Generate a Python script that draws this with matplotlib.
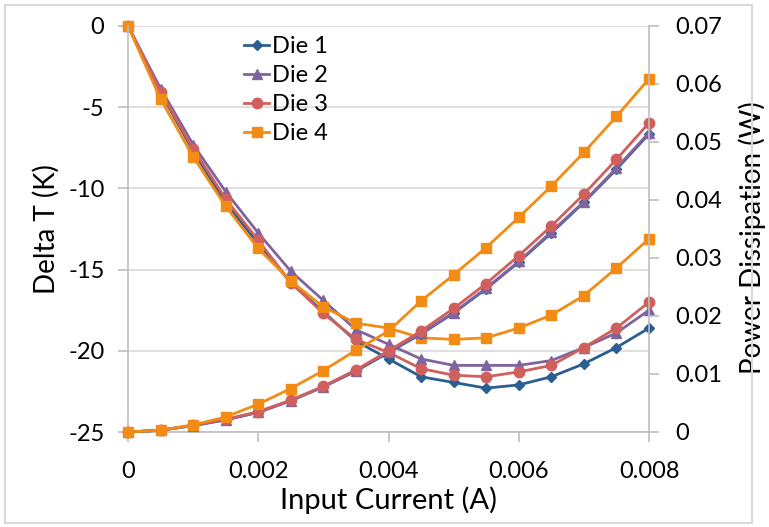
import matplotlib.pyplot as plt
from matplotlib.patches import Rectangle

# ── data ────────────────────────────────────────────────────────────────
current = [0, 0.0005, 0.001, 0.0015, 0.002, 0.0025, 0.003, 0.0035, 0.004,
           0.0045, 0.005, 0.0055, 0.006, 0.0065, 0.007, 0.0075, 0.008]

dT_die1 = [0, -4.1, -7.7, -10.9, -13.4, -15.8, -17.6, -19.4, -20.5,
           -21.6, -21.95, -22.3, -22.1, -21.6, -20.8, -19.8, -18.6]
dT_die2 = [0, -3.85, -7.3, -10.2, -12.75, -15.1, -16.9, -18.7, -19.6,
           -20.5, -20.9, -20.9, -20.9, -20.6, -19.8, -18.9, -17.5]
dT_die3 = [0, -4.05, -7.55, -10.65, -13.2, -15.8, -17.7, -19.3, -20.1,
           -21.1, -21.5, -21.6, -21.3, -20.9, -19.8, -18.6, -17.0]
dT_die4 = [0, -4.5, -8.05, -11.1, -13.7, -15.7, -17.3, -18.3, -18.6,
           -19.2, -19.3, -19.2, -18.6, -17.8, -16.6, -14.9, -13.1]

pw_die1 = [0, 0.0003, 0.0011, 0.0021, 0.0034, 0.0054, 0.0078, 0.0105, 0.0137,
           0.0169, 0.0205, 0.0247, 0.0293, 0.0343, 0.0396, 0.0453, 0.0514]
pw_die2 = [0, 0.0003, 0.0011, 0.0021, 0.0034, 0.0054, 0.0078, 0.0106, 0.0138,
           0.0170, 0.0206, 0.0248, 0.0294, 0.0345, 0.0397, 0.0455, 0.0516]
pw_die3 = [0, 0.0003, 0.0012, 0.0022, 0.0035, 0.0055, 0.0079, 0.0107, 0.0140,
           0.0174, 0.0213, 0.0256, 0.0304, 0.0355, 0.0410, 0.0470, 0.0533]
pw_die4 = [0, 0.0003, 0.0012, 0.0026, 0.0048, 0.0075, 0.0106, 0.0141, 0.0174,
           0.0226, 0.0271, 0.0318, 0.0370, 0.0424, 0.0482, 0.0544, 0.0609]

labels = ["Die 1", "Die 2", "Die 3", "Die 4"]
colors = ["#2B5E91", "#7F64A0", "#D0605E", "#F28C14"]
markers = [("D", 5), ("^", 7), ("o", 7.5), ("s", 7.5)]

plt.rcParams["font.family"] = ["Lato", "DejaVu Sans"]

fig = plt.figure(figsize=(7.69, 5.27), dpi=100)
ax1 = fig.add_axes([128 / 769, 1 - 432 / 527, 521 / 769, 406 / 527])
ax2 = ax1.twinx()

# light outer frame like the exported chart area
fig.patches.append(Rectangle((5 / 769, 4 / 527), 747 / 769, 518 / 527,
                             transform=fig.transFigure, fill=False,
                             edgecolor="#D9D9D9", linewidth=1.5))

for dT, lab, c, (m, ms) in zip([dT_die1, dT_die2, dT_die3, dT_die4],
                               labels, colors, markers):
    ax1.plot(current, dT, color=c, linewidth=2, marker=m, markersize=ms,
             label=lab, clip_on=False)

for pw, c, (m, ms) in zip([pw_die1, pw_die2, pw_die3, pw_die4], colors, markers):
    ax2.plot(current, pw, color=c, linewidth=2, marker=m, markersize=ms,
             clip_on=False)

grey = "#BFBFBF"
ax1.set_xlim(0, 0.008)
ax1.set_ylim(-25, 0)
ax2.set_ylim(0, 0.07)
ax1.set_xticks([0, 0.002, 0.004, 0.006, 0.008])
ax1.set_xticklabels(["0", "0.002", "0.004", "0.006", "0.008"])
ax1.set_yticks([-25, -20, -15, -10, -5, 0])
ax1.set_yticklabels(["-25", "-20", "-15", "-10", "-5", "0"])
ax2.set_yticks([0, 0.01, 0.02, 0.03, 0.04, 0.05, 0.06, 0.07])
ax2.set_yticklabels(["0", "0.01", "0.02", "0.03", "0.04", "0.05", "0.06", "0.07"])

ax1.yaxis.grid(True, color="#D9D9D9", linewidth=1.2)
ax1.set_axisbelow(True)

for ax in (ax1, ax2):
    ax.spines["top"].set_visible(False)
    for side in ("left", "right", "bottom"):
        ax.spines[side].set_color(grey)
        ax.spines[side].set_linewidth(1.2)
    ax.tick_params(colors=grey, labelcolor="black", labelsize=17,
                   length=7, width=1.2)
ax1.spines["right"].set_visible(False)
ax2.spines["left"].set_visible(False)
ax2.spines["bottom"].set_visible(False)
ax1.tick_params(axis="y", pad=10)
ax1.tick_params(axis="x", pad=14)
ax2.tick_params(axis="y", pad=12)

ax1.set_xlabel("Input Current (A)", fontsize=21, labelpad=3)
ax1.set_ylabel("Delta T (K)", fontsize=20, labelpad=6)
ax2.set_ylabel("Power Dissipation (W)", fontsize=20)
ax2.yaxis.set_label_coords(1.172, 0.478)

ax1.legend(loc="upper left", bbox_to_anchor=(0.19, 1.015), frameon=False,
           fontsize=17, handlelength=1.1, handletextpad=0.1,
           labelspacing=0.33, borderpad=0.2)

fig.savefig("out.png", dpi=100)
